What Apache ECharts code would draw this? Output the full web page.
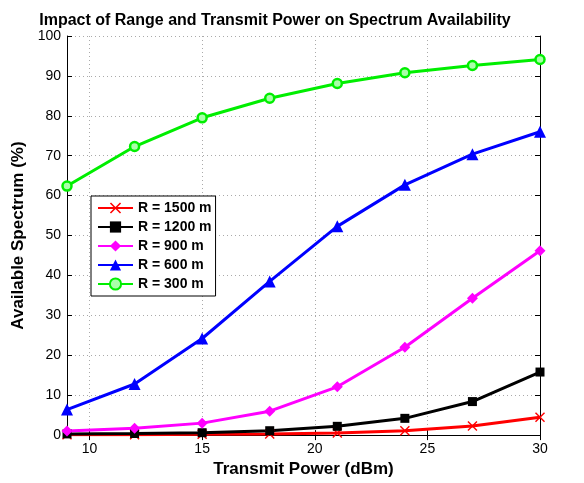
<!DOCTYPE html>
<html><head><meta charset="utf-8">
<script src="https://cdn.jsdelivr.net/npm/echarts@6/dist/echarts.min.js"></script>
<style>html,body{margin:0;padding:0;background:#fff}#c{width:584px;height:483px}</style>
</head><body><div id="c"></div>
<script>
const power = [9, 12, 15, 18, 21, 24, 27, 30];
const xTicks = [10, 15, 20, 25, 30];
const yTicks = [0, 10, 20, 30, 40, 50, 60, 70, 80, 90, 100];
const r1500 = [0.1, 0.1, 0.2, 0.3, 0.5, 1.1, 2.3, 4.5];
const r1200 = [0.3, 0.4, 0.6, 1.1, 2.2, 4.2, 8.4, 15.8];
const r900 = [1.0, 1.7, 3.0, 6.0, 12.1, 22.0, 34.3, 46.2];
const r600 = [6.4, 12.8, 24.2, 38.5, 52.3, 62.7, 70.4, 76.0];
const r300 = [62.4, 72.3, 79.5, 84.4, 88.1, 90.8, 92.6, 94.1];
const names = ['R = 1500 m', 'R = 1200 m', 'R = 900 m', 'R = 600 m', 'R = 300 m'];

const F = 'Liberation Sans, Arial, sans-serif';
const xMark = 'path://M0,1 L1,0 L5,4 L9,0 L10,1 L6,5 L10,9 L9,10 L5,6 L1,10 L0,9 L4,5 Z';
function mk(name, data, color, symbol, size, extra) {
  return Object.assign({
    name, type: 'line', data: power.map((p, i) => [p, data[i]]),
    symbol, symbolSize: size, lineStyle: { color, width: 3 },
    itemStyle: { color }, z: 3, animation: false
  }, extra || {});
}
const chart = echarts.init(document.getElementById('c'));
const axisBase = {
  axisLine: { show: true, lineStyle: { color: '#000', width: 1 } },
  axisTick: { show: true, inside: true, length: 5, lineStyle: { color: '#000' } },
};
chart.setOption({
  animation: false,
  title: { text: 'Impact of Range and Transmit Power on Spectrum Availability', left: 270, top: 8, textAlign: 'center',
    textStyle: { fontFamily: F, fontSize: 16, fontWeight: 'bold', color: '#000' } },
  grid: { left: 67, right: 44, top: 36, bottom: 42, show: false },
  legend: {
    orient: 'vertical', left: 91, top: 196, padding: [5, 4, 5, 6], itemGap: 5,
    itemWidth: 35, itemHeight: 14, borderColor: '#000', borderWidth: 1, backgroundColor: '#fff',
    textStyle: { fontFamily: F, fontSize: 14, fontWeight: 'bold', color: '#000' },
    data: names
  },
  xAxis: [Object.assign({}, axisBase, {
    type: 'value', min: 9, max: 30, position: 'bottom',
    name: 'Transmit Power (dBm)', nameLocation: 'middle', nameGap: 22,
    nameTextStyle: { fontFamily: F, fontSize: 17, fontWeight: 'bold', color: '#000' },
    axisTick: { show: true, inside: true, length: 5, customValues: xTicks, lineStyle: { color: '#000' } },
    axisLabel: { customValues: xTicks, fontFamily: F, fontSize: 14, color: '#000', margin: 7 },
    splitLine: { show: true, lineStyle: { color: '#aaa', type: [1, 3], width: 1 } }
  }), Object.assign({}, axisBase, {
    type: 'value', min: 9, max: 30, position: 'top',
    axisTick: { show: true, inside: true, length: 5, customValues: xTicks, lineStyle: { color: '#000' } },
    axisLabel: { show: false }, splitLine: { show: false }
  })],
  yAxis: [Object.assign({}, axisBase, {
    type: 'value', min: 0, max: 100, interval: 10, position: 'left',
    name: 'Available Spectrum (%)', nameLocation: 'middle', nameGap: 36,
    nameTextStyle: { fontFamily: F, fontSize: 17, fontWeight: 'bold', color: '#000' },
    axisLabel: { fontFamily: F, fontSize: 14, color: '#000', margin: 6 },
    splitLine: { show: true, lineStyle: { color: '#aaa', type: [1, 3], width: 1 } }
  }), Object.assign({}, axisBase, {
    type: 'value', min: 0, max: 100, interval: 10, position: 'right',
    axisLabel: { show: false }, splitLine: { show: false }
  })],
  series: [
    mk(names[0], r1500, '#ff0000', xMark, 10),
    mk(names[1], r1200, '#000000', 'rect', 9),
    mk(names[2], r900, '#ff00ff', 'diamond', 11),
    mk(names[3], r600, '#0000ff', 'triangle', 12),
    mk(names[4], r300, '#00ee00', 'circle', 9, { itemStyle: { color: '#aaffaa', borderColor: '#00ee00', borderWidth: 2.5 } })
  ]
});
</script></body></html>
